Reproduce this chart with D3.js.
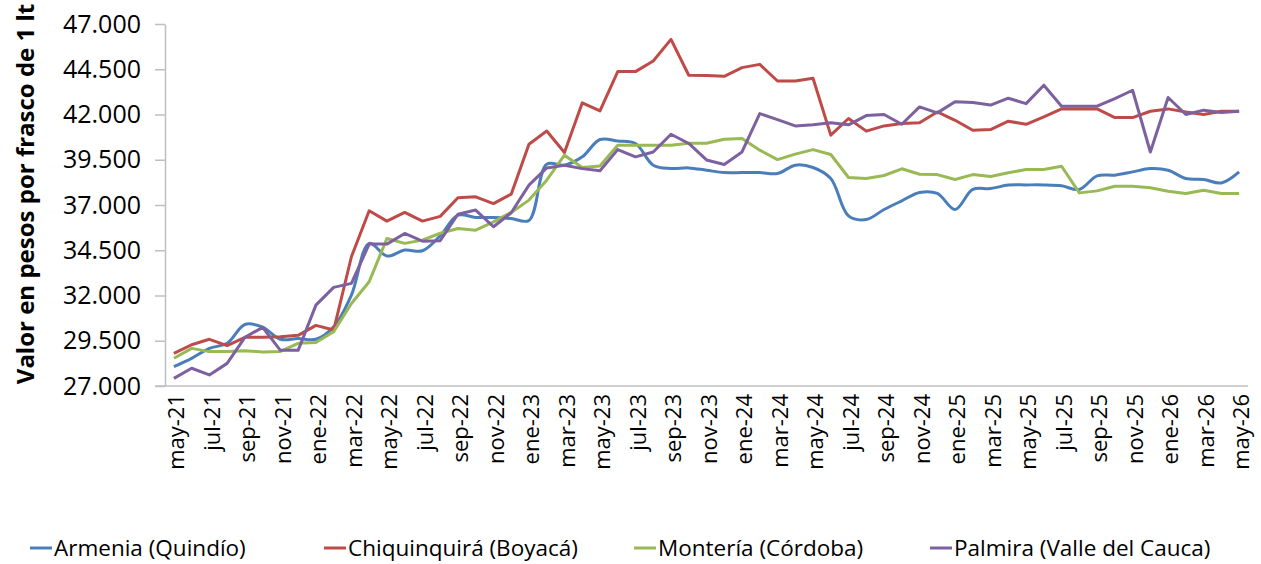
<!DOCTYPE html>
<html>
<head>
<meta charset="utf-8">
<script src="https://cdn.jsdelivr.net/npm/d3@7"></script>
<style>
  body { margin: 0; background: #ffffff; }
  text { font-family: "Open Sans", "Noto Sans", sans-serif; fill: #000; }
</style>
</head>
<body>
<div id="chart"></div>
<script>

// months, may-21 .. may-26
var mesesNombres = ["ene","feb","mar","abr","may","jun","jul","ago","sep","oct","nov","dic"];
var meses = [];
for (var k = 0; k <= 60; k++) {
  var m = (4 + k) % 12, a = 21 + Math.floor((4 + k) / 12);
  meses.push(mesesNombres[m] + "-" + a);
}

var yTicks = [27000, 29500, 32000, 34500, 37000, 39500, 42000, 44500, 47000];

var armenia = [28070, 28530, 29080, 29360, 30400, 30250, 29580, 29620, 29580, 30270,
  32020, 34880, 34180, 34510, 34470, 35300, 36440, 36310, 36310, 36250,
  36150, 39250, 39200, 39660, 40620, 40540, 40400, 39200, 39020, 39050,
  38920, 38790, 38790, 38790, 38740, 39200, 39070, 38460, 36400, 36200,
  36750, 37230, 37690, 37640, 36750, 37860, 37910, 38100, 38110, 38110,
  38060, 37860, 38610, 38650, 38830, 39010, 38920, 38460, 38410, 38220,
  38830];

var chiquinquira = [28800, 29280, 29580, 29230, 29690, 29690, 29720, 29800, 30350, 30090,
  34140, 36680, 36110, 36590, 36110, 36370, 37400, 37450, 37080, 37600,
  40360, 41090, 39900, 42640, 42200, 44370, 44370, 44960, 46150, 44170,
  44150, 44110, 44590, 44770, 43850, 43850, 44000, 40860, 41780, 41080,
  41370, 41500, 41540, 42140, 41680, 41130, 41170, 41630, 41460, 41870,
  42310, 42310, 42310, 41830, 41830, 42180, 42310, 42140, 42000, 42180,
  42180];

var monteria = [28530, 29080, 28900, 28900, 28950, 28880, 28910, 29360, 29410, 30000,
  31560, 32760, 35150, 34880, 35060, 35440, 35700, 35610, 36070, 36590,
  37270, 38370, 39750, 39070, 39160, 40300, 40300, 40300, 40300, 40410,
  40410, 40630, 40670, 40030, 39510, 39810, 40060, 39790, 38520, 38460,
  38630, 39000, 38700, 38680, 38410, 38680, 38570, 38780, 38960, 38960,
  39140, 37670, 37780, 38040, 38040, 37950, 37760, 37640, 37820, 37640,
  37640];

var palmira = [27420, 27980, 27610, 28250, 29690, 30240, 28970, 28970, 31470, 32450,
  32670, 34840, 34840, 35430, 35000, 35030, 36490, 36720, 35800, 36570,
  38100, 39050, 39200, 39010, 38890, 40060, 39660, 39930, 40910, 40400,
  39490, 39240, 39930, 42050, 41720, 41370, 41430, 41540, 41430, 41940,
  42000, 41460, 42420, 42090, 42700, 42660, 42520, 42900, 42600, 43620,
  42460, 42460, 42460, 42880, 43340, 39930, 42940, 42000, 42240, 42110,
  42180];

var series = [
  {nombre: "Armenia (Quindío)", valores: armenia, color: "#4a7ebb", suave: true},
  {nombre: "Chiquinquirá (Boyacá)", valores: chiquinquira, color: "#be4b48", suave: false},
  {nombre: "Montería (Córdoba)", valores: monteria, color: "#98b954", suave: false},
  {nombre: "Palmira (Valle del Cauca)", valores: palmira, color: "#7d60a0", suave: false}
];

var width = 1261, height = 564;
var svg = d3.select("#chart").append("svg")
  .attr("width", width)
  .attr("height", height);

var x = d3.scalePoint()
  .domain(meses)
  .range([165, 1248])
  .padding(0.5);

var y = d3.scaleLinear()
  .domain([27000, 47000])
  .range([386, 24]);

var es = d3.formatLocale({decimal: ",", thousands: ".", grouping: [3], currency: ["$", ""]});
var fmt = es.format(",.0f");

// Y axis
var yAxis = svg.append("g")
  .attr("transform", "translate(165,0)")
  .call(d3.axisLeft(y).tickValues(yTicks).tickFormat(fmt).tickSize(10).tickSizeOuter(0).tickPadding(14));
yAxis.select(".domain").attr("stroke", "#bfbfbf").attr("stroke-width", 1.5);
yAxis.selectAll(".tick line").attr("stroke", "#bfbfbf").attr("stroke-width", 1.5);
yAxis.selectAll(".tick text")
  .style("font-family", "'Open Sans', sans-serif")
  .style("font-size", "25px")
  .attr("fill", "#000");

// X axis
var xAxis = svg.append("g")
  .attr("transform", "translate(0,386)")
  .call(d3.axisBottom(x).tickValues(meses.filter(function (d, i) { return i % 2 === 0; }))
    .tickSize(0).tickSizeOuter(0).tickPadding(0));
xAxis.select(".domain").attr("d", "M155,0H1248").attr("stroke", "#bfbfbf").attr("stroke-width", 1.5);
xAxis.selectAll(".tick text")
  .style("font-family", "'Open Sans', sans-serif")
  .style("font-size", "22px")
  .attr("fill", "#000")
  .attr("transform", "rotate(-90)")
  .attr("text-anchor", "end")
  .attr("x", -8)
  .attr("y", 2)
  .attr("dy", "0.35em");

// Y axis title
svg.append("text")
  .attr("transform", "translate(26,194) rotate(-90)")
  .attr("text-anchor", "middle")
  .attr("dy", "0.35em")
  .style("font-size", "24px")
  .style("font-weight", "bold")
  .text("Valor en pesos por frasco de 1 lt");

// lines
series.forEach(function (s) {
  var line = d3.line()
    .x(function (d, i) { return x(meses[i]); })
    .y(function (d) { return y(d); })
    .curve(s.suave ? d3.curveCatmullRom.alpha(0.5) : d3.curveLinear);
  svg.append("path")
    .datum(s.valores)
    .attr("fill", "none")
    .attr("stroke", s.color)
    .attr("stroke-width", 3)
    .attr("stroke-linejoin", "round")
    .attr("d", line);
});

// legend
var legendX = [30, 324, 634, 930];
var legend = svg.append("g").attr("transform", "translate(0,548)");
series.forEach(function (s, i) {
  var g = legend.append("g").attr("transform", "translate(" + legendX[i] + ",0)");
  g.append("line")
    .attr("x1", 0).attr("x2", 22)
    .attr("y1", 0).attr("y2", 0)
    .attr("stroke", s.color)
    .attr("stroke-width", 3);
  g.append("text")
    .attr("x", 24)
    .attr("dy", "0.35em")
    .style("font-size", "22.5px")
    .text(s.nombre);
});

</script>
</body>
</html>
